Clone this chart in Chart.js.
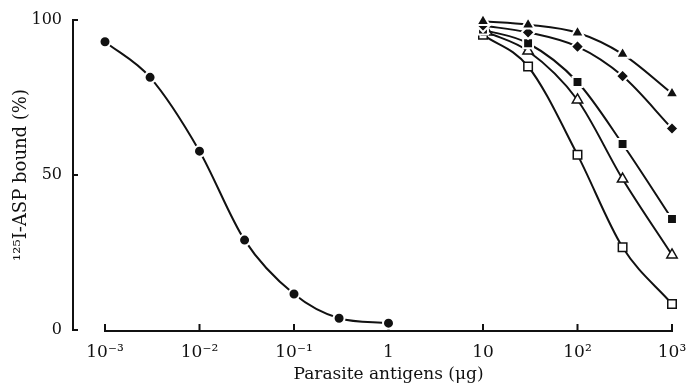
<!DOCTYPE html>
<html><head><meta charset="utf-8">
<script src="https://cdn.jsdelivr.net/npm/chart.js@4"></script>
<style>html,body{margin:0;padding:0;background:#fff}#wrap{width:690px;height:387px;position:relative}</style>
</head><body><div id="wrap"><canvas id="c"></canvas></div>
<script>
// ---- data ----
const xTickValues = [0.001, 0.01, 0.1, 1, 10, 100, 1000];
const xTickLabels = ['10⁻³', '10⁻²', '10⁻¹', '1', '10', '10²', '10³'];
const yTickValues = [0, 50, 100];

const circleX = [0.001, 0.003, 0.01, 0.03, 0.1, 0.3, 1];
const circleY = [93, 81.5, 57.7, 29, 11.6, 3.8, 2.2];

const rightX = [10, 30, 100, 300, 1000];
const openTriX = [11, 30, 100, 300, 1000];
const filledTriY = [99.6, 98.5, 95.9, 89, 76.3];
const diamondY = [98.2, 96, 91.4, 81.9, 65];
const filledSqY = [96.9, 92.5, 80, 60, 35.8];
const openTriY = [96.1, 90, 74.2, 48.7, 24.2];
const openSqY = [95.2, 85, 56.5, 26.7, 8.4];

const INK = '#111';
const FONT = "'DejaVu Serif', 'Liberation Serif', serif";
const CLEAR = 'rgba(0,0,0,0)';

function pts(xs, ys) { return xs.map((x, i) => ({ x: x, y: ys[i] })); }

function series(xs, ys, style, radius, filled) {
  return {
    data: pts(xs, ys),
    borderColor: INK,
    borderWidth: 2,
    cubicInterpolationMode: 'monotone',
    pointStyle: style,
    pointRadius: radius,
    pointHoverRadius: radius,
    pointBackgroundColor: filled ? INK : '#fff',
    pointBorderColor: filled ? '#fff' : INK,
    pointBorderWidth: filled ? 2 : 1.5,
    clip: false,
    fill: false
  };
}

const axesPlugin = {
  id: 'axesLines',
  beforeDatasetsDraw(chart) {
    const { ctx, scales: { x, y } } = chart;
    ctx.save();
    ctx.strokeStyle = INK;
    ctx.lineWidth = 2;
    const ax = x.left - 32;
    const y0 = y.getPixelForValue(yTickValues[0]);
    const yTop = y.getPixelForValue(yTickValues[yTickValues.length - 1]);
    ctx.beginPath(); ctx.moveTo(ax, yTop - 1); ctx.lineTo(ax, y0 + 1); ctx.stroke();
    yTickValues.forEach(v => {
      const py = y.getPixelForValue(v);
      ctx.beginPath(); ctx.moveTo(ax, py); ctx.lineTo(ax + 5, py); ctx.stroke();
    });
    const by = y0 + 1;
    const x0 = x.getPixelForValue(xTickValues[0]);
    const x1 = x.getPixelForValue(xTickValues[xTickValues.length - 1]);
    ctx.beginPath(); ctx.moveTo(x0 - 1, by); ctx.lineTo(x1 + 1, by); ctx.stroke();
    xTickValues.forEach(v => {
      const px = x.getPixelForValue(v);
      ctx.beginPath(); ctx.moveTo(px, by); ctx.lineTo(px, by - 7); ctx.stroke();
    });
    ctx.restore();
  }
};

new Chart(document.getElementById('c'), {
  type: 'line',
  data: {
    datasets: [
      series(circleX, circleY, 'circle', 5.5, true),
      series(rightX, filledTriY, 'triangle', 7.5, true),
      series(rightX, diamondY, 'rectRot', 6.5, true),
      series(rightX, filledSqY, 'rect', 7, true),
      series(openTriX, openTriY, 'triangle', 6, false),
      series(rightX, openSqY, 'rect', 6, false)
    ]
  },
  options: {
    responsive: true,
    maintainAspectRatio: false,
    animation: false,
    layout: { padding: { top: 20, right: 18, left: 0, bottom: 0 } },
    plugins: { legend: { display: false }, tooltip: { enabled: false } },
    scales: {
      x: {
        type: 'logarithmic',
        min: xTickValues[0],
        max: xTickValues[xTickValues.length - 1],
        grid: { display: true, drawOnChartArea: false, drawTicks: true, tickLength: 12, tickColor: CLEAR, color: CLEAR },
        border: { display: false },
        afterBuildTicks: s => { s.ticks = xTickValues.map(v => ({ value: v })); },
        afterFit: s => { s.height = 57; },
        ticks: {
          autoSkip: false, maxRotation: 0, minRotation: 0,
          padding: 0,
          color: INK,
          font: { family: FONT, size: 17 },
          callback: (v, i) => xTickLabels[i]
        },
        title: {
          display: true,
          text: 'Parasite antigens (μg)',
          color: INK,
          font: { family: FONT, size: 17 },
          padding: { top: 0, bottom: 2 }
        }
      },
      y: {
        type: 'linear',
        min: yTickValues[0],
        max: yTickValues[yTickValues.length - 1],
        grid: { display: true, drawOnChartArea: false, drawTicks: true, tickLength: 40, tickColor: CLEAR, color: CLEAR },
        border: { display: false },
        afterBuildTicks: s => { s.ticks = yTickValues.map(v => ({ value: v })); },
        afterFit: s => { s.width = 105; },
        ticks: {
          padding: 3,
          color: INK,
          font: { family: FONT, size: 16 }
        },
        title: {
          display: true,
          text: '¹²⁵I-ASP bound (%)',
          color: INK,
          font: { family: FONT, size: 18 },
          padding: { top: 11, bottom: 0 }
        }
      }
    }
  },
  plugins: [axesPlugin]
});
</script>
</body></html>
